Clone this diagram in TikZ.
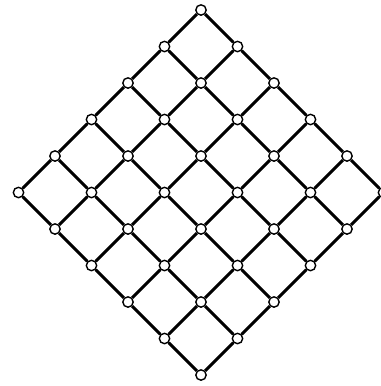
\documentclass[tikz,border=0pt]{standalone}
\usepackage{tikz}
\usetikzlibrary{positioning}

\begin{document}
\begin{tikzpicture}[x=0.25mm, y=0.25mm,
  vert/.style={circle, draw, fill=white, line width=0.35mm, minimum size=2.6mm, inner sep=0pt},
  link/.style={line width=0.75mm}]
\useasboundingbox (0,0) rectangle (380,-386);
% lattice points, 6 x 6, turned by 45 degrees
\foreach \i in {0,...,5}
  \foreach \j in {0,...,5}
    \node[vert] (v-\i-\j) at ({201+36.5*(\j-\i)},{-10-36.5*(\i+\j)}) {};
% links down-left and down-right
\foreach \i [count=\k from 1] in {0,...,4}
  \foreach \j in {0,...,5}
    \draw[link] (v-\i-\j) -- (v-\k-\j);
\foreach \j [count=\k from 1] in {0,...,4}
  \foreach \i in {0,...,5}
    \draw[link] (v-\i-\j) -- (v-\i-\k);
\end{tikzpicture}
\end{document}
